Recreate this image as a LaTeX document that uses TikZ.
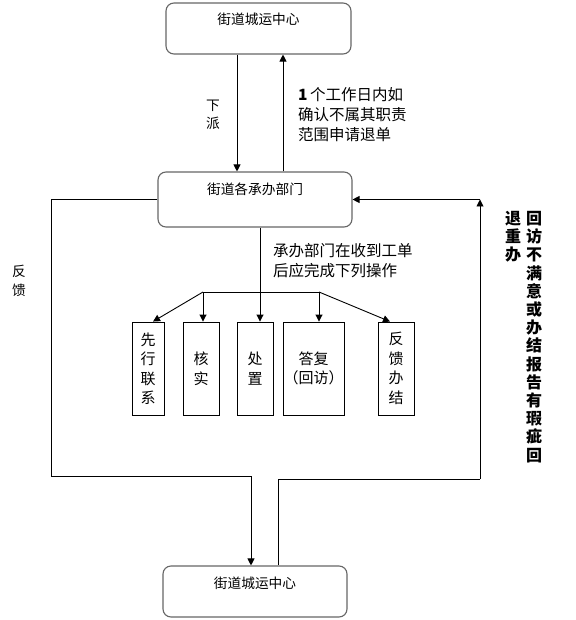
\documentclass[tikz,border=0pt]{standalone}
\usepackage{fontspec}
\setmainfont{Noto Sans CJK SC}
\usetikzlibrary{arrows.meta}
\begin{document}
\begin{tikzpicture}[x=1pt,y=-1pt,
  rbox/.style={draw=black!60, line width=1.1pt, rounded corners=8pt, inner sep=0pt, font=\fontsize{13.7}{16}\selectfont},
  sbox/.style={draw=black, line width=0.9pt, inner sep=0pt, align=center, minimum height=93pt, font=\fontsize{15}{19.5}\selectfont},
  conn/.style={line width=0.9pt, -{Triangle[length=7pt,width=7pt]}},
  plain/.style={line width=0.9pt},
  lbl/.style={inner sep=0pt, align=left, font=\fontsize{15.5}{20}\selectfont},
  vtext/.style={inner sep=0pt, align=center, font=\fontsize{16}{18.2}\selectfont\bfseries}]
\useasboundingbox (0,0) rectangle (575,620);

% rounded boxes
\node[rbox, minimum width=185pt, text height=22pt, text depth=29pt] (top) at (258.5,28.5) {街道城运中心};
\node[rbox, minimum width=194pt, text height=23pt, text depth=32pt] (mid) at (255,199.5) {街道各承办部门};
\node[rbox, minimum width=184pt, text height=22pt, text depth=29pt] (bot) at (255,591.5) {街道城运中心};

% small boxes
\node[sbox, minimum width=32pt] (s1) at (148,368.5) {先\\行\\联\\系};
\node[sbox, minimum width=36pt] (s2) at (201,368.5) {核\\实};
\node[sbox, minimum width=36pt] (s3) at (255,368.5) {处\\置};
\node[sbox, minimum width=61pt] (s4) at (313.5,368.5) {答复\\（回访）};
\node[sbox, minimum width=36pt] (s5) at (396,368.5) {反\\馈\\办\\结};

% texts
\node[lbl, font=\fontsize{13.7}{18}\selectfont, align=center] (xp) at (213,115) {下\\派};
\node[lbl, anchor=north west] (ret) at (298,87) {\textbf{1}\,个工作日内如\\确认不属其职责\\范围申请退单};
\node[lbl, font=\fontsize{13.7}{19}\selectfont, align=center] (fk) at (19,281) {反\\馈};
\node[lbl, anchor=north west] (op) at (273,243) {承办部门在收到工单\\后应完成下列操作};
\node[vtext, anchor=north] (v1) at (534,211) {回\\访\\不\\满\\意\\或\\办\\结\\报\\告\\有\\瑕\\疵\\回};
\node[vtext, anchor=north] (v2) at (513,211) {退\\重\\办};

% corner coordinates
\coordinate (lt) at (51,199.5);
\coordinate (lb) at (51,476);
\coordinate (lr) at (251,476);
\coordinate (rb) at (278,479);
\coordinate (rr) at (480,479);
\coordinate (rc) at (480,199.5);
\coordinate (jL) at (203,292);
\coordinate (jR) at (319,292);

% connectors
\draw[conn] ([xshift=-21.5pt]top.south) -- ([xshift=-18pt]mid.north);
\draw[conn] ([xshift=28pt]mid.north) -- ([xshift=24.5pt]top.south);
\draw[conn] (mid.west) -- (lt) -- (lb) -- (lr) -- (lr |- bot.north);
\draw[plain] (rb |- bot.north) -- (rb) -- (rr);
\draw[conn] (rr) -- (rc);
\draw[conn] (rc) -- (mid.east);
\draw[conn] ([xshift=5pt]mid.south) -- ([xshift=5pt]s3.north);
\draw[plain] (jL) -- (jR);
\draw[conn] (jL) -- (jL |- s2.north);
\draw[conn] (jR) -- (jR |- s4.north);
\draw[conn] (jL) -- ([xshift=5pt]s1.north);
\draw[conn] (jR) -- ([xshift=-6pt]s5.north);
\end{tikzpicture}
\end{document}
